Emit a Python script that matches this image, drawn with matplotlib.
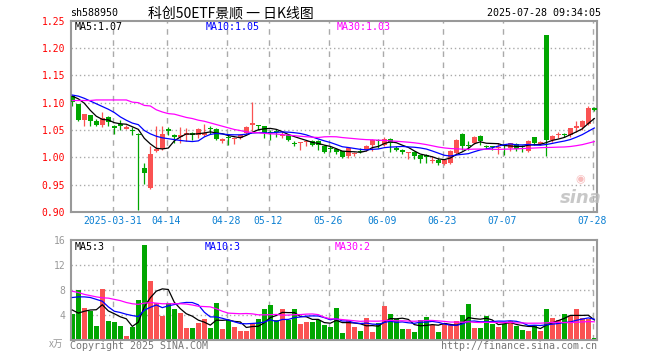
import matplotlib
matplotlib.use("Agg")
import matplotlib.pyplot as plt
import numpy as np
import pandas as pd

# daily candles, 2025-03-20 .. 2025-07-28
opens = [1.112, 1.098, 1.069, 1.077, 1.067, 1.060, 1.073, 1.057, 1.061, 1.052,
         1.050, 1.043, 0.981, 0.944, 1.012, 1.016, 1.051, 1.041, 1.038, 1.040,
         1.044, 1.040, 1.041, 1.052, 1.052, 1.029, 1.036, 1.033, 1.035, 1.044,
         1.060, 1.060, 1.057, 1.047, 1.049, 1.039, 1.040, 1.026, 1.026, 1.028,
         1.030, 1.029, 1.021, 1.017, 1.015, 1.011, 1.003, 1.006, 1.011, 1.014,
         1.022, 1.031, 1.023, 1.033, 1.018, 1.014, 1.008, 1.009, 1.004, 1.004,
         0.994, 0.996, 0.988, 0.990, 1.008, 1.043, 1.022, 1.027, 1.039, 1.021,
         1.020, 1.017, 1.022, 1.017, 1.025, 1.020, 1.012, 1.038, 1.025, 1.224,
         1.032, 1.040, 1.042, 1.041, 1.054, 1.055, 1.061, 1.091]
highs = [1.113, 1.098, 1.080, 1.078, 1.071, 1.083, 1.075, 1.060, 1.068, 1.060,
         1.056, 1.044, 0.989, 1.021, 1.058, 1.058, 1.056, 1.042, 1.055, 1.054,
         1.046, 1.053, 1.061, 1.058, 1.053, 1.035, 1.041, 1.038, 1.042, 1.058,
         1.102, 1.060, 1.058, 1.050, 1.052, 1.048, 1.042, 1.030, 1.028, 1.032,
         1.031, 1.031, 1.022, 1.021, 1.018, 1.012, 1.019, 1.010, 1.018, 1.022,
         1.033, 1.034, 1.038, 1.035, 1.021, 1.015, 1.010, 1.011, 1.005, 1.006,
         1.002, 0.998, 0.997, 1.013, 1.034, 1.044, 1.029, 1.039, 1.040, 1.022,
         1.021, 1.027, 1.023, 1.027, 1.026, 1.022, 1.032, 1.038, 1.030, 1.224,
         1.040, 1.047, 1.044, 1.054, 1.066, 1.068, 1.094, 1.093]
lows = [1.094, 1.066, 1.058, 1.058, 1.057, 1.056, 1.058, 1.043, 1.050, 1.051,
        1.041, 0.904, 0.951, 0.942, 1.010, 1.013, 1.040, 1.026, 1.026, 1.030,
        1.032, 1.036, 1.039, 1.043, 1.031, 1.027, 1.023, 1.024, 1.033, 1.043,
        1.048, 1.050, 1.036, 1.032, 1.038, 1.035, 1.029, 1.020, 1.013, 1.021,
        1.021, 1.013, 1.008, 1.010, 1.006, 0.999, 0.999, 1.003, 1.008, 1.012,
        1.012, 1.018, 1.020, 1.009, 1.011, 1.007, 0.997, 0.997, 0.990, 0.990,
        0.990, 0.986, 0.986, 0.988, 1.006, 1.013, 1.013, 1.024, 1.023, 1.015,
        1.014, 1.006, 1.005, 1.012, 1.012, 1.009, 1.010, 1.022, 1.023, 1.002,
        1.028, 1.035, 1.038, 1.038, 1.046, 1.050, 1.060, 1.084]
closes = [1.101, 1.069, 1.079, 1.067, 1.060, 1.072, 1.064, 1.054, 1.057, 1.056,
          1.049, 1.040, 0.972, 1.006, 1.016, 1.043, 1.048, 1.038, 1.041, 1.044,
          1.041, 1.052, 1.045, 1.051, 1.034, 1.034, 1.035, 1.035, 1.041, 1.056,
          1.062, 1.058, 1.044, 1.045, 1.047, 1.041, 1.032, 1.025, 1.027, 1.030,
          1.023, 1.022, 1.010, 1.015, 1.009, 1.001, 1.018, 1.008, 1.010, 1.021,
          1.032, 1.029, 1.034, 1.026, 1.013, 1.009, 1.009, 1.002, 0.997, 1.001,
          0.996, 0.990, 0.995, 1.012, 1.032, 1.021, 1.021, 1.038, 1.030, 1.019,
          1.019, 1.019, 1.021, 1.026, 1.015, 1.019, 1.030, 1.026, 1.028, 1.032,
          1.039, 1.042, 1.041, 1.053, 1.058, 1.067, 1.091, 1.086]
# volume, 万
volumes = [4.16, 8.0, 5.12, 4.69, 2.24, 8.16, 3.04, 2.88, 2.24, 0.64,
           2.08, 6.4, 15.2, 9.44, 5.97, 3.89, 5.92, 4.96, 4.32, 1.92,
           1.92, 2.77, 3.36, 1.92, 5.92, 1.76, 3.15, 2.13, 1.49, 1.49,
           2.51, 3.36, 4.96, 5.6, 3.2, 4.96, 3.2, 4.96, 2.56, 2.88,
           2.88, 3.2, 2.4, 2.08, 5.12, 1.12, 3.2, 2.08, 1.44, 3.52,
           1.28, 2.72, 5.44, 4.16, 3.36, 1.76, 1.76, 1.28, 3.2, 3.68,
           2.4, 1.28, 2.72, 2.4, 3.04, 4.0, 5.76, 1.92, 1.92, 3.84,
           2.56, 2.08, 2.56, 3.04, 2.24, 1.6, 1.44, 2.4, 1.44, 4.96,
           3.52, 3.2, 4.16, 3.84, 4.96, 3.52, 3.36, 0.32]

# moving average values before the window is full (history not on the chart)
ma5_head = [1.112, 1.107, 1.099, 1.086]
ma10_head = [1.114, 1.112, 1.108, 1.103, 1.098, 1.093, 1.088, 1.082, 1.074]
ma30_head = [1.104, 1.104, 1.104, 1.104, 1.105, 1.105, 1.105, 1.105, 1.105, 1.105,
             1.101, 1.100, 1.095, 1.094, 1.087, 1.083, 1.080, 1.079, 1.076, 1.073,
             1.071, 1.068, 1.066, 1.063, 1.060, 1.057, 1.054, 1.051, 1.049]
vma5_head = [4.8, 4.3, 4.6, 4.8]
vma10_head = [6.8, 6.9, 6.9, 6.8, 6.5, 6.2, 5.3, 4.6, 4.4]
vma30_head = [7.8, 7.6, 7.3, 7.1, 6.9, 6.75, 6.7, 6.5, 6.3, 6.0,
              5.8, 5.7, 5.9, 6.0, 5.9, 5.8, 5.8, 5.8, 5.8, 5.75,
              5.6, 5.4, 5.35, 5.3, 5.0, 4.6, 4.3, 4.25, 4.2]

tick_idx = [7, 16, 26, 33, 43, 52, 62, 72, 87]
tick_labels = ["2025-03-31", "04-14", "04-28", "05-12", "05-26", "06-09",
               "06-23", "07-07", "07-28"]
price_ticks = [0.90, 0.95, 1.00, 1.05, 1.10, 1.15, 1.20, 1.25]
vol_ticks = [4, 8, 12, 16]

code = "sh588950"
title = "科创50ETF景顺 一 日K线图"
stamp = "2025-07-28 09:34:05"
price_ma_text = ["MA5:1.07", "MA10:1.05", "MA30:1.03"]
vol_ma_text = ["MA5:3", "MA10:3", "MA30:2"]

RED = "#fa5252"
GREEN = "#00a600"
GRAYLINE = "#aaaaaa"
MONO = "DejaVu Sans Mono"
ma_colors = ["black", "#0000ff", "#ff00ff"]


def moving(vals, n, head):
    s = pd.Series(vals).rolling(n).mean().to_numpy()
    s[:n - 1] = head
    return s


o = np.array(opens)
h = np.array(highs)
l = np.array(lows)
c = np.array(closes)
v = np.array(volumes)
x = np.arange(len(c))
up = c >= o
cols = np.where(up, RED, GREEN)

W, H = 660, 360
fig = plt.figure(figsize=(6.6, 3.6), dpi=100)
ax = fig.add_axes([70.7 / W, 148 / H, 526.3 / W, 191.3 / H])
axv = fig.add_axes([70.7 / W, 20 / H, 526.3 / W, 100 / H])

for a in (ax, axv):
    a.set_xlim(-0.27, 87.45)
    for s in a.spines.values():
        s.set_color("#999999")
        s.set_linewidth(1.5)
    for t in tick_idx:
        a.axvline(t - 0.3, color=GRAYLINE, lw=1, ls=(0, (4, 4)), zorder=0)

# price panel
ax.set_ylim(0.90, 1.25)
for p in price_ticks[1:-1]:
    ax.axhline(p, color=GRAYLINE, lw=1, ls=(0, (1, 2)), zorder=0)
ax.vlines(x, l, h, colors=cols, lw=0.9, zorder=2)
body = np.maximum(np.abs(c - o), 0.0018)
ax.bar(x, body, bottom=np.minimum(o, c), width=0.78, color=cols, zorder=3)
for n, head, col in zip([5, 10, 30], [ma5_head, ma10_head, ma30_head], ma_colors):
    ax.plot(x, moving(c, n, head), color=col, lw=0.9, zorder=4)

ax.set_yticks(price_ticks)
ax.set_yticklabels(["%.2f" % p for p in price_ticks], family=MONO, fontsize=7)
ax.set_xticks([t - 0.3 for t in tick_idx])
ax.set_xticklabels(tick_labels, family=MONO, fontsize=7)
ax.tick_params(axis="y", length=0, pad=4, labelcolor="#ff0000")
ax.tick_params(axis="x", length=0, pad=3, labelcolor="#0a7fd2")

# volume panel
axv.set_ylim(0, 16)
for p in vol_ticks[:-1]:
    axv.axhline(p, color=GRAYLINE, lw=1, ls=(0, (1, 2)), zorder=0)
axv.bar(x, v, width=0.82, color=cols, zorder=2)
for n, head, col in zip([5, 10, 30], [vma5_head, vma10_head, vma30_head], ma_colors):
    axv.plot(x, moving(v, n, head), color=col, lw=0.9, zorder=3)
axv.set_yticks(vol_ticks)
axv.set_yticklabels([str(t) for t in vol_ticks], family=MONO, fontsize=7)
axv.set_xticks([])
axv.tick_params(axis="y", length=0, pad=4, labelcolor="#999999")


def ftext(px, py, s, **kw):
    fig.text(px / W, 1 - py / H, s, **kw)


ftext(70, 13, code, family=MONO, fontsize=7.2, va="center")
ftext(231, 14, title, family=["Noto Sans CJK SC", "DejaVu Sans"], fontsize=10,
      ha="center", va="center")
ftext(601, 13, stamp, family=MONO, fontsize=7.2, ha="right", va="center")
for px, s, col in zip([75, 206, 337], price_ma_text, ma_colors):
    ftext(px, 27, s, family=MONO, fontsize=7.2, va="center", color=col)
for px, s, col in zip([75, 205, 335], vol_ma_text, ma_colors):
    ftext(px, 247, s, family=MONO, fontsize=7.2, va="center", color=col)
ftext(63, 344, "x万", family=["Noto Sans CJK SC", "DejaVu Sans"], fontsize=7,
      ha="right", va="center", color="#999999", style="italic")
ftext(70, 346, "Copyright 2025 SINA.COM", family=MONO, fontsize=7.2,
      va="center", color="#777777")
ftext(597, 346, "http://finance.sina.com.cn", family=MONO, fontsize=7.2,
      ha="right", va="center", color="#777777")
# sina watermark
ftext(581, 198, "sina", fontsize=13, weight="bold", style="italic",
      ha="center", va="center", color="#bbbbbb", alpha=0.8)
ftext(580, 179, "◉", fontsize=8, ha="center", va="center",
      color="#f4a0a0", alpha=0.7)

fig.savefig("out.png", dpi=100)
